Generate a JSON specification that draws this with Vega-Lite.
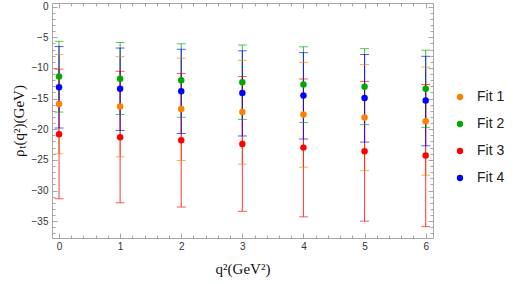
{
  "$schema": "https://vega.github.io/schema/vega-lite/v6.json",
  "width": 381,
  "height": 235,
  "autosize": "none",
  "padding": {"left": 52, "top": 3, "right": 80, "bottom": 46},
  "background": "white",
  "config": {
    "view": {"stroke": "#a6a6a6", "strokeWidth": 1},
    "axis": {
      "domain": false,
      "grid": false,
      "tickColor": "#a6a6a6",
      "labelFont": "Liberation Sans",
      "labelFontSize": 10,
      "labelColor": "#333333",
      "titleFont": "Liberation Serif",
      "titleFontSize": 15,
      "titleFontWeight": "normal",
      "titleColor": "#111111"
    },
    "legend": {
      "labelFont": "Liberation Sans",
      "labelFontSize": 14,
      "labelColor": "#222222"
    }
  },
  "data": {
    "values": [
      {"q2": 0, "fit": "Fit 1", "v": -15.9, "hi": -7.8, "lo": -24.0},
      {"q2": 1, "fit": "Fit 1", "v": -16.3, "hi": -8.15, "lo": -24.5},
      {"q2": 2, "fit": "Fit 1", "v": -16.7, "hi": -8.4, "lo": -25.1},
      {"q2": 3, "fit": "Fit 1", "v": -17.2, "hi": -8.75, "lo": -25.7},
      {"q2": 4, "fit": "Fit 1", "v": -17.6, "hi": -9.1, "lo": -26.2},
      {"q2": 5, "fit": "Fit 1", "v": -18.1, "hi": -9.45, "lo": -26.75},
      {"q2": 6, "fit": "Fit 1", "v": -18.7, "hi": -9.85, "lo": -27.5},
      {"q2": 0, "fit": "Fit 2", "v": -11.4, "hi": -5.65, "lo": -17.2},
      {"q2": 1, "fit": "Fit 2", "v": -11.75, "hi": -5.85, "lo": -17.6},
      {"q2": 2, "fit": "Fit 2", "v": -12.0, "hi": -6.05, "lo": -18.05},
      {"q2": 3, "fit": "Fit 2", "v": -12.35, "hi": -6.25, "lo": -18.4},
      {"q2": 4, "fit": "Fit 2", "v": -12.7, "hi": -6.55, "lo": -18.9},
      {"q2": 5, "fit": "Fit 2", "v": -13.05, "hi": -6.85, "lo": -19.25},
      {"q2": 6, "fit": "Fit 2", "v": -13.4, "hi": -7.1, "lo": -19.7},
      {"q2": 0, "fit": "Fit 3", "v": -20.8, "hi": -10.2, "lo": -31.35},
      {"q2": 1, "fit": "Fit 3", "v": -21.3, "hi": -10.55, "lo": -32.0},
      {"q2": 2, "fit": "Fit 3", "v": -21.8, "hi": -10.9, "lo": -32.7},
      {"q2": 3, "fit": "Fit 3", "v": -22.4, "hi": -11.4, "lo": -33.4},
      {"q2": 4, "fit": "Fit 3", "v": -23.0, "hi": -11.8, "lo": -34.3},
      {"q2": 5, "fit": "Fit 3", "v": -23.6, "hi": -12.2, "lo": -35.0},
      {"q2": 6, "fit": "Fit 3", "v": -24.3, "hi": -12.7, "lo": -35.9},
      {"q2": 0, "fit": "Fit 4", "v": -13.15, "hi": -6.5, "lo": -19.8},
      {"q2": 1, "fit": "Fit 4", "v": -13.4, "hi": -6.75, "lo": -20.2},
      {"q2": 2, "fit": "Fit 4", "v": -13.8, "hi": -6.95, "lo": -20.7},
      {"q2": 3, "fit": "Fit 4", "v": -14.1, "hi": -7.2, "lo": -21.1},
      {"q2": 4, "fit": "Fit 4", "v": -14.5, "hi": -7.5, "lo": -21.6},
      {"q2": 5, "fit": "Fit 4", "v": -14.9, "hi": -7.8, "lo": -22.1},
      {"q2": 6, "fit": "Fit 4", "v": -15.3, "hi": -8.1, "lo": -22.7}
    ]
  },
  "resolve": {"axis": {"x": "independent", "y": "independent"}, "legend": {"color": "independent"}},
  "layer": [
    {
      "mark": {"type": "rule", "strokeWidth": 1.1, "opacity": 0.72},
      "encoding": {
        "x": {"field": "q2", "type": "quantitative", "scale": {"domain": [-0.115, 6.12], "nice": false, "zero": false},
              "axis": {"orient": "bottom", "values": [0, 1, 2, 3, 4, 5, 6], "format": "d", "tickSize": -5, "labelPadding": 8, "title": "q²(GeV²)", "titlePadding": 10}},
        "y": {"field": "hi", "type": "quantitative", "scale": {"domain": [-37.75, 0.6], "nice": false, "zero": false},
              "axis": {"orient": "left", "values": [0, -5, -10, -15, -20, -25, -30, -35], "format": "d", "tickSize": -5, "labelPadding": 9, "title": "ρₜ(q²)(GeV)", "titlePadding": 5}},
        "y2": {"field": "lo"},
        "color": {"field": "fit", "type": "nominal", "scale": {"domain": ["Fit 1", "Fit 2", "Fit 3", "Fit 4"], "range": ["#ff8000", "#00a800", "#ff0000", "#0000ff"]}, "legend": null},
        "order": {"field": "fit"}
      }
    },
    {
      "mark": {"type": "tick", "orient": "horizontal", "size": 9, "thickness": 1, "opacity": 0.65},
      "encoding": {
        "x": {"field": "q2", "type": "quantitative",
              "axis": {"orient": "bottom", "values": [0.2,0.4,0.6,0.8,1.2,1.4,1.6,1.8,2.2,2.4,2.6,2.8,3.2,3.4,3.6,3.8,4.2,4.4,4.6,4.8,5.2,5.4,5.6,5.8], "labels": false, "tickSize": -3, "title": null}},
        "y": {"field": "hi", "type": "quantitative",
              "axis": {"orient": "left", "values": [-1,-2,-3,-4,-6,-7,-8,-9,-11,-12,-13,-14,-16,-17,-18,-19,-21,-22,-23,-24,-26,-27,-28,-29,-31,-32,-33,-34,-36,-37], "labels": false, "tickSize": -3, "title": null}},
        "color": {"field": "fit", "type": "nominal", "legend": null}
      }
    },
    {
      "mark": {"type": "tick", "orient": "horizontal", "size": 9, "thickness": 1, "opacity": 0.65},
      "encoding": {
        "x": {"field": "q2", "type": "quantitative",
              "axis": {"orient": "top", "values": [0, 1, 2, 3, 4, 5, 6], "labels": false, "tickSize": -5, "title": null}},
        "y": {"field": "lo", "type": "quantitative",
              "axis": {"orient": "right", "values": [0, -5, -10, -15, -20, -25, -30, -35], "labels": false, "tickSize": -5, "title": null}},
        "color": {"field": "fit", "type": "nominal", "legend": null}
      }
    },
    {
      "mark": {"type": "circle", "size": 42, "opacity": 1},
      "encoding": {
        "x": {"field": "q2", "type": "quantitative",
              "axis": {"orient": "top", "values": [0.2,0.4,0.6,0.8,1.2,1.4,1.6,1.8,2.2,2.4,2.6,2.8,3.2,3.4,3.6,3.8,4.2,4.4,4.6,4.8,5.2,5.4,5.6,5.8], "labels": false, "tickSize": -3, "title": null}},
        "y": {"field": "v", "type": "quantitative",
              "axis": {"orient": "right", "values": [-1,-2,-3,-4,-6,-7,-8,-9,-11,-12,-13,-14,-16,-17,-18,-19,-21,-22,-23,-24,-26,-27,-28,-29,-31,-32,-33,-34,-36,-37], "labels": false, "tickSize": -3, "title": null}},
        "color": {"field": "fit", "type": "nominal",
                  "legend": {"title": null, "orient": "none", "legendX": 401, "legendY": 87, "symbolType": "circle", "symbolSize": 40, "rowPadding": 13, "labelOffset": 10, "padding": 0}}
      }
    }
  ]
}
